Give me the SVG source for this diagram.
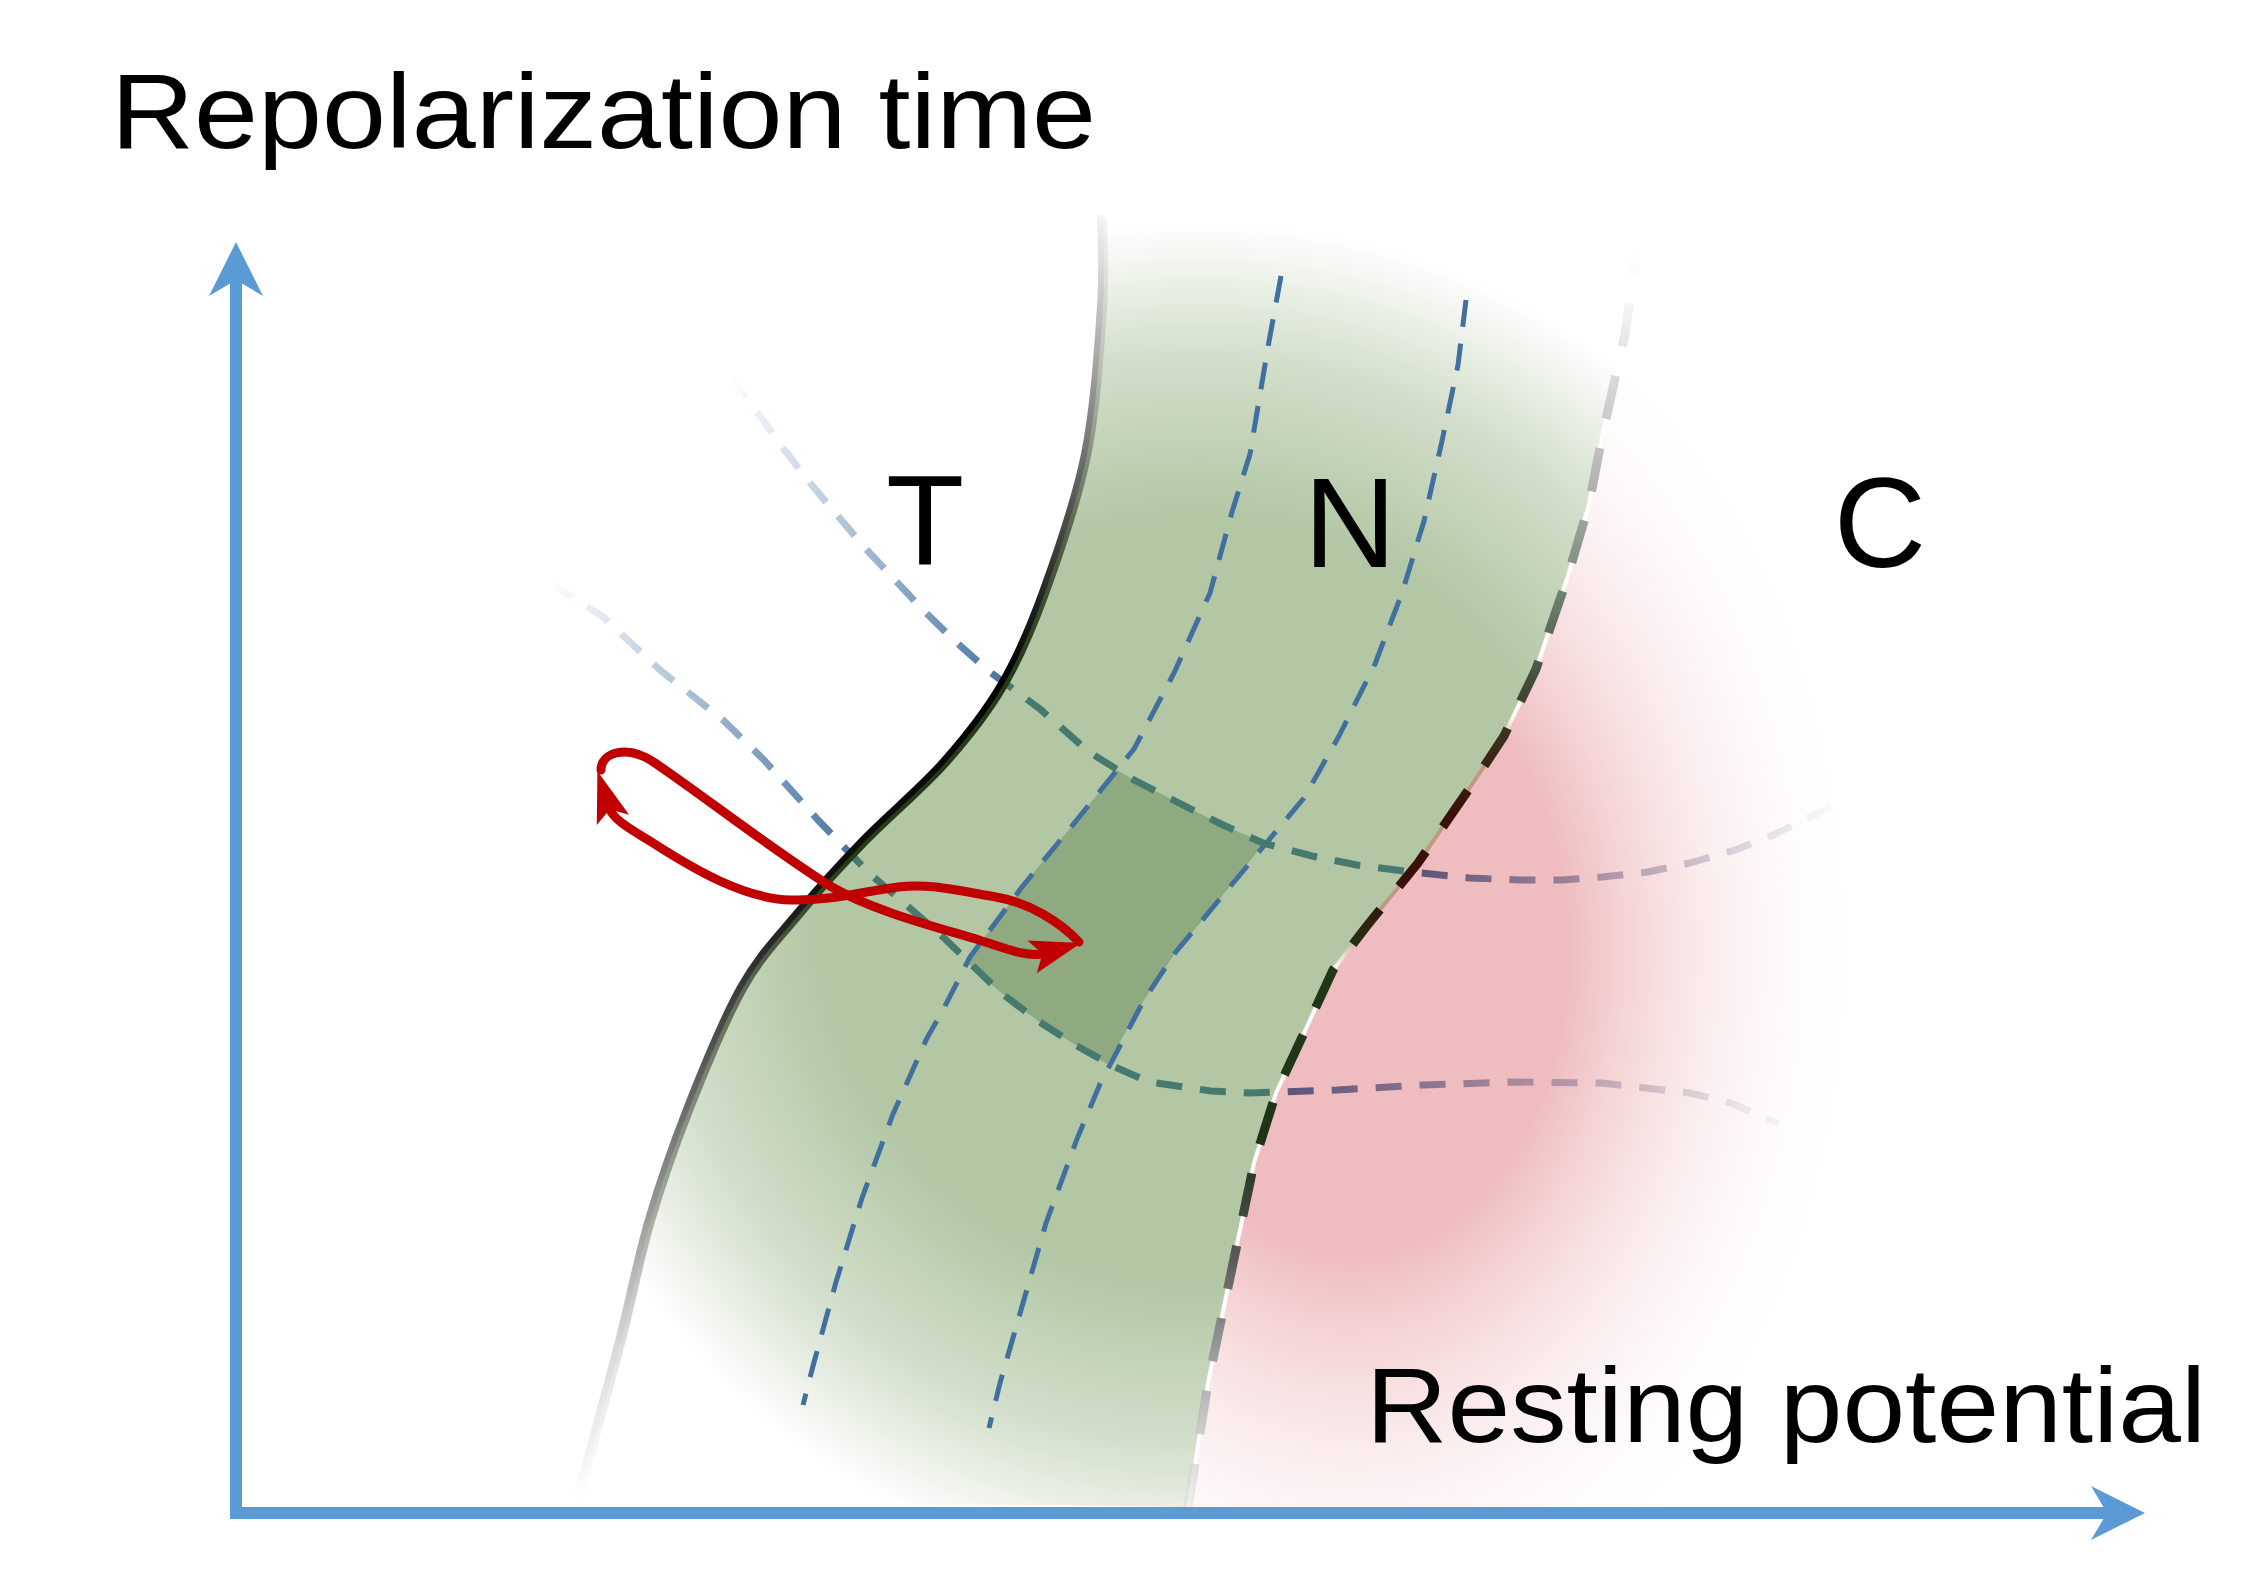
<svg xmlns="http://www.w3.org/2000/svg" width="2259" height="1593" viewBox="0 0 2259 1593">
<style>
.lbl{font-family:"Liberation Sans",Arial,sans-serif;fill:#000}
.iso{fill:none;stroke:#41709f;stroke-width:5;stroke-dasharray:27 17;stroke-linejoin:round}
.hline{fill:none;stroke-width:7;stroke-dasharray:26 18;stroke-linejoin:round}
.red{fill:none;stroke:#c00000;stroke-width:9;stroke-linecap:round;marker-end:url(#redHead)}
.edge{fill:none;stroke-linejoin:round}
</style>
<defs>
<radialGradient id="greenFill" gradientUnits="userSpaceOnUse" cx="1200" cy="900" r="700">
<stop offset="0" stop-color="#b3c7a5"/>
<stop offset="0.55" stop-color="#b3c7a5"/>
<stop offset="0.78" stop-color="#d3dfcb"/>
<stop offset="0.97" stop-color="#ffffff"/>
</radialGradient>
<radialGradient id="pinkFill" gradientUnits="userSpaceOnUse" cx="1350" cy="950" r="520" gradientTransform="translate(1350 950) scale(1 1.4) translate(-1350 -950)">
<stop offset="0" stop-color="#efbdbf"/>
<stop offset="0.42" stop-color="#efbdbf"/>
<stop offset="1" stop-color="#ffffff" stop-opacity="0"/>
</radialGradient>
<linearGradient id="leftEdge" gradientUnits="userSpaceOnUse" x1="0" y1="215" x2="0" y2="1500">
<stop offset="0" stop-color="#f4f4f4"/>
<stop offset="0.1" stop-color="#b0b0b0"/>
<stop offset="0.2" stop-color="#666666"/>
<stop offset="0.3" stop-color="#222222"/>
<stop offset="0.36" stop-color="#000000"/>
<stop offset="0.52" stop-color="#111111"/>
<stop offset="0.62" stop-color="#444444"/>
<stop offset="0.75" stop-color="#8a8a8a"/>
<stop offset="0.88" stop-color="#d8d8d8"/>
<stop offset="1" stop-color="#ffffff"/>
</linearGradient>
<linearGradient id="leftShadow" gradientUnits="userSpaceOnUse" x1="0" y1="215" x2="0" y2="1500">
<stop offset="0" stop-color="#f4f6f2"/>
<stop offset="0.12" stop-color="#b8beb2"/>
<stop offset="0.25" stop-color="#556248"/>
<stop offset="0.35" stop-color="#243a18"/>
<stop offset="0.5" stop-color="#243a18"/>
<stop offset="0.62" stop-color="#66705c"/>
<stop offset="0.78" stop-color="#a8aca4"/>
<stop offset="0.9" stop-color="#e8e8e8"/>
<stop offset="1" stop-color="#ffffff"/>
</linearGradient>
<linearGradient id="rightDash" gradientUnits="userSpaceOnUse" x1="0" y1="230" x2="0" y2="1506">
<stop offset="0" stop-color="#ffffff" stop-opacity="0"/>
<stop offset="0.094" stop-color="#e4e4e4"/>
<stop offset="0.196" stop-color="#b4b4b4"/>
<stop offset="0.274" stop-color="#7a8a78"/>
<stop offset="0.353" stop-color="#434d3c"/>
<stop offset="0.408" stop-color="#3a2a18"/>
<stop offset="0.46" stop-color="#3a1008"/>
<stop offset="0.52" stop-color="#3a1008"/>
<stop offset="0.57" stop-color="#203818"/>
<stop offset="0.72" stop-color="#1e3419"/>
<stop offset="0.8" stop-color="#555555"/>
<stop offset="0.917" stop-color="#bbbbbb"/>
<stop offset="1" stop-color="#dddddd" stop-opacity="0.5"/>
</linearGradient>
<linearGradient id="rightLine" gradientUnits="userSpaceOnUse" x1="0" y1="230" x2="0" y2="1506">
<stop offset="0" stop-color="#ffffff"/>
<stop offset="0.38" stop-color="#ffffff"/>
<stop offset="0.41" stop-color="#c09a80"/>
<stop offset="0.55" stop-color="#c09a80"/>
<stop offset="0.58" stop-color="#ffffff"/>
<stop offset="1" stop-color="#ffffff"/>
</linearGradient>
<linearGradient id="h1Grad" gradientUnits="userSpaceOnUse" x1="730" y1="0" x2="1831" y2="0">
<stop offset="0" stop-color="#4a76a4" stop-opacity="0"/>
<stop offset="0.245" stop-color="#4a76a4"/>
<stop offset="0.246" stop-color="#467a6e"/>
<stop offset="0.618" stop-color="#467a6e"/>
<stop offset="0.62" stop-color="#5b5378"/>
<stop offset="0.8" stop-color="#5b5378" stop-opacity="0.45"/>
<stop offset="1" stop-color="#5b5378" stop-opacity="0.03"/>
</linearGradient>
<linearGradient id="h2Grad" gradientUnits="userSpaceOnUse" x1="550" y1="0" x2="1779" y2="0">
<stop offset="0" stop-color="#4a76a4" stop-opacity="0"/>
<stop offset="0.244" stop-color="#4a76a4"/>
<stop offset="0.245" stop-color="#467a6e"/>
<stop offset="0.592" stop-color="#467a6e"/>
<stop offset="0.594" stop-color="#5b5378"/>
<stop offset="0.8" stop-color="#5b5378" stop-opacity="0.45"/>
<stop offset="1" stop-color="#5b5378" stop-opacity="0.05"/>
</linearGradient>
<marker id="redHead" markerUnits="userSpaceOnUse" markerWidth="80" markerHeight="60" viewBox="-20 -30 80 60" refX="8" refY="0" orient="auto" overflow="visible">
<path d="M-5,-17 L46,0 L-5,17 L6,0 Z" fill="#c00000"/>
</marker>
<marker id="axisHead" markerUnits="userSpaceOnUse" markerWidth="80" markerHeight="70" viewBox="-20 -35 80 70" refX="0" refY="0" orient="auto-start-reverse" overflow="visible">
<path d="M38,0 L-16,-27 L0,0 L-16,27 Z" fill="#5b9bd5"/>
</marker>
</defs>
<rect x="0" y="0" width="2259" height="1593" fill="#ffffff"/>

<g id="region-C">
<path d="M1640,230 L1625,334 L1603,432 L1589,504 L1567,579 L1536,669 L1504,736 L1469,789 L1418,863 L1366,927 L1333,970 L1304,1033 L1276,1093 L1254,1163 L1239,1235 L1223,1311 L1208,1383 L1196,1458 L1188,1507 L2060,1507 L2060,230 Z" fill="url(#pinkFill)"/>
</g>

<g id="region-N">
<path d="M1100,215 C1100,230 1102.7,266 1100,306 C1097.3,346 1093.7,406 1084,454 C1074.3,502 1056,553.5 1042,592 C1028,630.5 1016.5,657 1000,685 C983.5,713 966,735 943,761 C920,787 886.3,815 862,840 C837.7,865 817.3,887.5 797,912 C776.7,936.5 758.5,954 740,987 C721.5,1020 701.3,1070 686,1109 C670.7,1148 659.5,1180 648,1219 C636.5,1258 629.2,1298 617,1345 C604.8,1392 582,1474 575,1500 L1188,1507 L1196,1458 L1208,1383 L1223,1311 L1239,1235 L1254,1163 L1276,1093 L1304,1033 L1333,970 L1366,927 L1418,863 L1469,789 L1504,736 L1536,669 L1567,579 L1589,504 L1603,432 L1625,334 L1640,230 Z" fill="url(#greenFill)"/>
<path id="overlap" d="M1117,770 L1134,780 L1179,803 L1223,825 L1264,843 L1219,900 L1175,953 L1144,1000 L1107,1064 L1077,1046 L1038,1021 L1000,992 L966,962 L1022,887 L1080,816 Z" fill="#8fa981"/>
</g>

<g id="connectors">
<path id="iso-a" class="iso" d="M1281,276 L1268,347 L1250,454 L1232,512 L1210,593 L1174,673 L1134,749 L1080,816 L1022,887 L970,957 L943,1010 L927,1038 L893,1114 L862,1198 L836,1282 L813,1366 L803,1405"/>
<path id="iso-b" class="iso" d="M1466,300 L1458,365 L1442,441 L1424,521 L1402,593 L1375,664 L1339,736 L1304,798 L1263,847 L1219,900 L1175,953 L1144,1000 L1100,1084 L1077,1139 L1046,1223 L1023,1303 L1000,1383 L989,1428"/>
<path id="h-1" class="hline" stroke="url(#h1Grad)" d="M730,377 L757,412 L783,448 L810,483 L837,515 L865,548 L895,580 L925,612 L957,643 L990,672 L1040,709 L1089,752 L1134,780 L1179,803 L1223,825 L1263,843 L1312,856 L1357,865 L1412,872 L1470,878 L1519,880 L1561,880 L1602,877 L1648,872 L1690,863 L1735,850 L1773,835 L1831,807"/>
<path id="h-2" class="hline" stroke="url(#h2Grad)" d="M550,583 L603,617 L660,670 L723,720 L764,760 L818,820 L870,874 L904,903 L943,937 L973,966 L1000,992 L1038,1021 L1077,1046 L1115,1067 L1149,1082 L1211,1091 L1250,1093 L1279,1092 L1337,1090 L1424,1085 L1515,1082 L1602,1083 L1690,1093 L1731,1103 L1779,1124"/>
<path id="boundary-TN-shadow" class="edge" transform="translate(4,2)" stroke="url(#leftShadow)" stroke-width="6" d="M1100,215 C1100,230 1102.7,266 1100,306 C1097.3,346 1093.7,406 1084,454 C1074.3,502 1056,553.5 1042,592 C1028,630.5 1016.5,657 1000,685 C983.5,713 966,735 943,761 C920,787 886.3,815 862,840 C837.7,865 817.3,887.5 797,912 C776.7,936.5 758.5,954 740,987 C721.5,1020 701.3,1070 686,1109 C670.7,1148 659.5,1180 648,1219 C636.5,1258 629.2,1298 617,1345 C604.8,1392 582,1474 575,1500"/>
<path id="boundary-TN" class="edge" stroke="url(#leftEdge)" stroke-width="6" d="M1100,215 C1100,230 1102.7,266 1100,306 C1097.3,346 1093.7,406 1084,454 C1074.3,502 1056,553.5 1042,592 C1028,630.5 1016.5,657 1000,685 C983.5,713 966,735 943,761 C920,787 886.3,815 862,840 C837.7,865 817.3,887.5 797,912 C776.7,936.5 758.5,954 740,987 C721.5,1020 701.3,1070 686,1109 C670.7,1148 659.5,1180 648,1219 C636.5,1258 629.2,1298 617,1345 C604.8,1392 582,1474 575,1500"/>
<path id="boundary-NC-line" class="edge" stroke="url(#rightLine)" stroke-width="4" d="M1640,230 L1625,334 L1603,432 L1589,504 L1567,579 L1536,669 L1504,736 L1469,789 L1418,863 L1366,927 L1333,970 L1304,1033 L1276,1093 L1254,1163 L1239,1235 L1223,1311 L1208,1383 L1196,1458 L1188,1507"/>
<path id="boundary-NC" class="edge" stroke="url(#rightDash)" stroke-width="9" stroke-dasharray="44 30" d="M1640,230 L1625,334 L1603,432 L1589,504 L1567,579 L1536,669 L1504,736 L1469,789 L1418,863 L1366,927 L1333,970 L1304,1033 L1276,1093 L1254,1163 L1239,1235 L1223,1311 L1208,1383 L1196,1458 L1188,1507"/>
<path id="loop-forward" class="red" d="M601,770 C601,752 628,744 655,763 C705,797 770,848 830,886 C875,912 940,928 979,940 C1005,948 1028,958 1044.5,953.3"/>
<path id="loop-back" class="red" d="M1079,942 C1060,922 1030,903 996,897 C960,891 930,883 898,887 C860,892 830,901 791,900 C745,899 695,870 653,843 C632,830 613,820 609,807.5"/>
</g>

<g id="axes">
<path d="M236,280 L236,1513 L2107,1513" fill="none" stroke="#5b9bd5" stroke-width="12" stroke-linejoin="miter" marker-start="url(#axisHead)" marker-end="url(#axisHead)"/>
</g>

<g id="labels">
<text id="y-title" class="lbl" x="111" y="148" font-size="105" textLength="985" lengthAdjust="spacingAndGlyphs">Repolarization time</text>
<text id="x-title" class="lbl" x="1366" y="1442" font-size="106" textLength="840" lengthAdjust="spacingAndGlyphs">Resting potential</text>
<text id="label-T" class="lbl" x="925" y="564" font-size="128" text-anchor="middle">T</text>
<text id="label-N" class="lbl" x="1350" y="567" font-size="128" text-anchor="middle">N</text>
<text id="label-C" class="lbl" x="1880" y="567" font-size="128" text-anchor="middle">C</text>
</g>
</svg>
